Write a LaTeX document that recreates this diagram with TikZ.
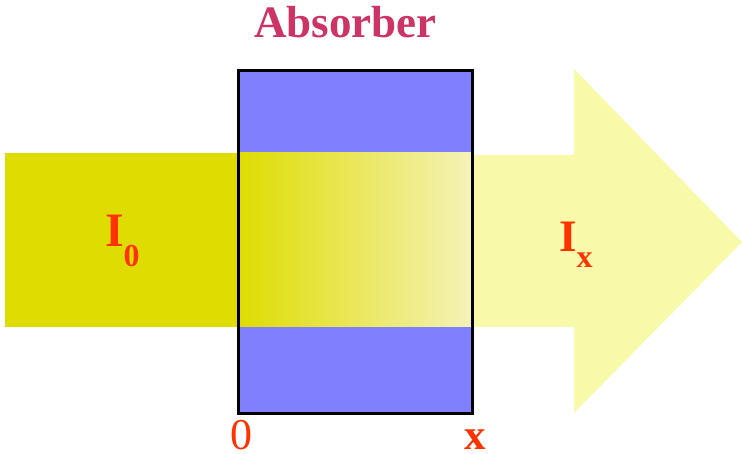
\documentclass[tikz,border=0pt]{standalone}
\usepackage{fontspec}
\setmainfont{Liberation Serif}
\definecolor{beamyellow}{HTML}{DEDC00}
\definecolor{paleyellow}{HTML}{F9F9AA}
\definecolor{fadeend}{HTML}{F5F2B8}
\definecolor{absblue}{HTML}{8080FF}
\definecolor{titlecol}{HTML}{CE3366}
\definecolor{labelcol}{HTML}{FF3300}
\tikzset{
  lbl/.style={inner sep=0pt, outer sep=0pt, text=labelcol},
  absorberbox/.style={draw=black, line width=3pt},
}
\begin{document}
\begin{tikzpicture}[x=1pt,y=-1pt]
\useasboundingbox (0,0) rectangle (742,454);
% incoming beam
\fill[beamyellow] (5,153) rectangle (237,327);
% outgoing arrow
\fill[paleyellow] (471,155) -- (574,155) -- (574,69) -- (742,242) -- (574,413) -- (574,327) -- (471,327) -- cycle;
% absorber
\fill[absblue] (237,69) rectangle (471,412);
\shade[left color=beamyellow, right color=fadeend] (237,153) rectangle (471,327);
\node[absorberbox, minimum width=234pt, minimum height=343pt, inner sep=0pt, anchor=north west] (abs) at (237,69) {};
% texts
\node[inner sep=0pt, anchor=base, text=titlecol, font=\fontsize{45}{45}\selectfont\bfseries] (title) at (345.5,38) {Absorber};
\node[lbl, anchor=base west, font=\bfseries] (i0) at (105,247) {\fontsize{48}{48}\selectfont I\raisebox{-20pt}{\fontsize{32}{32}\selectfont 0}};
\node[lbl, anchor=base west, font=\bfseries] (ix) at (559,252) {\fontsize{45}{45}\selectfont I\raisebox{-16pt}{\fontsize{32}{32}\selectfont x}};
\node[lbl, anchor=base, font=\fontsize{44}{44}\selectfont] (zero) at (241.5,449) {0};
\node[lbl, anchor=base, font=\fontsize{43}{43}\selectfont\bfseries] (xlab) at (475,449) {x};
\end{tikzpicture}
\end{document}
